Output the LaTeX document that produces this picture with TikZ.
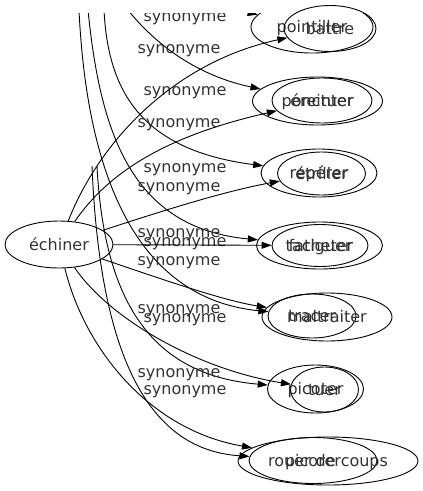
\documentclass[tikz,border=0pt]{standalone}
\usepackage{fontspec}
\setmainfont{DejaVu Sans}
\usetikzlibrary{shapes.geometric,arrows.meta}
\begin{document}
\begin{tikzpicture}[x=1pt,y=-1pt,
  every node/.style={font=\fontsize{16}{19}\selectfont, text=black!80},
  word/.style={ellipse, draw=black, line width=0.9pt, inner sep=0pt, text height=11pt, text depth=0pt},
  rel/.style={draw=black, line width=0.9pt, -{Triangle[length=10pt,width=7pt]}},
  lab/.style={inner sep=0pt}]
\useasboundingbox (0,0) rectangle (423,491);

% ---- second graph (cut off at the top) ----
\begin{scope}
\clip (0,13) rectangle (423,491);
\node[word, minimum width=122pt, minimum height=52pt] (pointiller) at (312,27) {pointiller};
\node[word, minimum width=130pt, minimum height=48pt] (ponctuer) at (317.5,101) {ponctuer};
\node[word, minimum width=116pt, minimum height=48pt] (reperer) at (319,173) {repérer};
\node[word, minimum width=126pt, minimum height=47pt] (tacheter) at (319.5,245.5) {tacheter};
\node[word, minimum width=88pt, minimum height=44pt] (tracer) at (312,316) {tracer};
\node[word, minimum width=96pt, minimum height=48pt] (picoter) at (315.5,389) {picoter};
\node[word, minimum width=128pt, minimum height=46pt] (picorer) at (313,460.5) {picorer};

\coordinate (b1s) at (215,5);
\coordinate (b2s) at (128,10);
\coordinate (b3s) at (104,10);
\coordinate (b4s) at (88,10);
\coordinate (b5s) at (79,10);
\coordinate (b6s) at (97,166);
\coordinate (b7s) at (92,166);

\draw[rel] (b1s) -- (pointiller);
\draw[rel] (b2s) .. controls (140,25) and (180,72) .. (ponctuer);
\draw[rel] (b3s) .. controls (108,90) and (140,150) .. (reperer);
\draw[rel] (b4s) .. controls (100,130) and (130,228) .. (tacheter);
\draw[rel] (b5s) .. controls (88,200) and (150,300) .. (tracer);
\draw[rel] (b6s) .. controls (104,300) and (150,375) .. (picoter);
\draw[rel] (b7s) .. controls (100,360) and (150,450) .. (picorer);

\node[lab] (lb2) at (185,19) {synonyme};
\node[lab] (lb3) at (185,92.5) {synonyme};
\node[lab] (lb4) at (185,170) {synonyme};
\node[lab] (lb5) at (185,243.5) {synonyme};
\node[lab] (lb6) at (185,319.5) {synonyme};
\node[lab] (lb7) at (185,391.5) {synonyme};
\end{scope}

% ---- first graph ----
\node[word, minimum width=108pt, minimum height=47pt] (echiner) at (59,244.5) {échiner};
\node[word, minimum width=92pt, minimum height=46pt] (battre) at (330,28.5) {battre};
\node[word, minimum width=100pt, minimum height=45pt] (ereinter) at (322,100.5) {éreinter};
\node[word, minimum width=88pt, minimum height=43pt] (etriller) at (321.5,173.5) {étriller};
\node[word, minimum width=96pt, minimum height=42pt] (fatiguer) at (320,245.5) {fatiguer};
\node[word, minimum width=130pt, minimum height=48pt] (maltraiter) at (327,317) {maltraiter};
\node[word, minimum width=68pt, minimum height=45pt] (tuer) at (324.5,389.5) {tuer};
\node[word, minimum width=180pt, minimum height=48pt] (rouer) at (328,461) {rouer de coups};

\draw[rel] (echiner) .. controls (100,140) and (175,62) .. (battre);
\draw[rel] (echiner) .. controls (110,170) and (170,135) .. (ereinter);
\draw[rel] (echiner) .. controls (150,215) and (220,192) .. (etriller);
\draw[rel] (echiner) -- (fatiguer);
\draw[rel] (echiner) .. controls (150,275) and (220,300) .. (maltraiter);
\draw[rel] (echiner) .. controls (110,320) and (200,370) .. (tuer);
\draw[rel] (echiner) .. controls (85,350) and (150,430) .. (rouer);

\node[lab] (la1) at (179,50.5) {synonyme};
\node[lab] (la2) at (179,124.5) {synonyme};
\node[lab] (la3) at (179,188.5) {synonyme};
\node[lab] (la4) at (179,234.5) {synonyme};
\node[lab] (la5) at (179,262.5) {synonyme};
\node[lab] (la6) at (179,310.5) {synonyme};
\node[lab] (la7) at (179,375) {synonyme};
\end{tikzpicture}
\end{document}
